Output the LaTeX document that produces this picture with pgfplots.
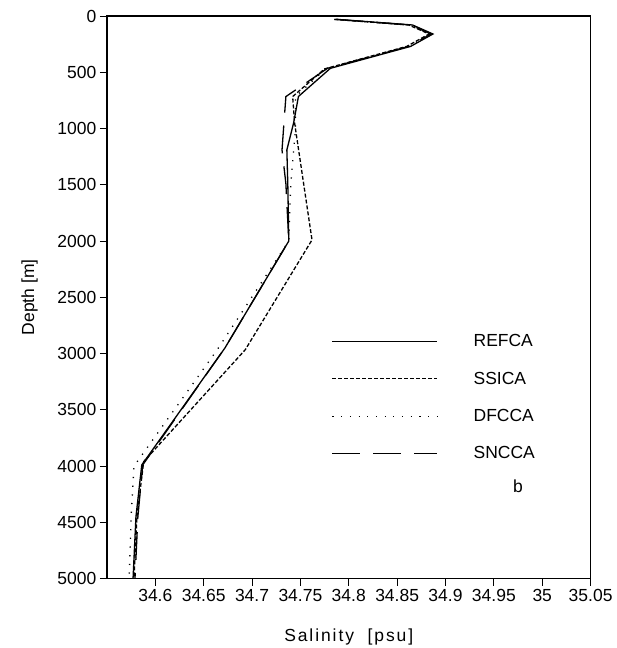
\documentclass[border=0pt]{standalone}
\usepackage{fontspec}
\setmainfont{Liberation Sans}
\usepackage{pgfplots}
\pgfplotsset{compat=1.18}

\begin{document}
\begin{tikzpicture}[font=\fontsize{17.5}{21}\selectfont]
\begin{axis}[
    name=ax,
    scale only axis,
    width=484pt, height=563pt,
    xmin=34.55, xmax=35.05,
    ymin=0, ymax=5000,
    y dir=reverse,
    xtick={34.6,34.65,34.7,34.75,34.8,34.85,34.9,34.95,35,35.05},
    ytick={0,500,1000,1500,2000,2500,3000,3500,4000,4500,5000},
    /pgf/number format/assume math mode=true,
    /pgf/number format/1000 sep={},
    /pgf/number format/precision=2,
    tick label style={font=\fontsize{17.5}{21}\selectfont},
    label style={font=\fontsize{17.5}{21}\selectfont},
    tick pos=left,
    tick align=outside,
    major tick length=7pt,
    tick style={line width=0.9pt, black},
    axis line style={line width=1.3pt},
    xlabel={\addfontfeature{LetterSpace=11}Salinity\ \ [psu]},
    ylabel={Depth [m]},
    xlabel style={at={(ticklabel cs:0.5,20pt)}},
    ylabel style={at={(ticklabel cs:0.5,13pt)}},
    legend style={draw=none, fill=none, at={(rel axis cs:0.459,0.441)}, anchor=north west,
                  row sep=19.5pt, font=\fontsize{17.5}{21}\selectfont,
                  /tikz/every odd column/.append style={column sep=34pt}},
    legend cell align=left,
    legend image code/.code={\draw[#1, line width=0.6pt] (0pt,0pt) -- (105pt,0pt);},
    every axis plot/.append style={line width=1.3pt, black},
]
% REFCA
\addplot[solid] coordinates {
(34.788,30) (34.866,80) (34.887,160) (34.864,270) (34.781,465) (34.748,715)
(34.743,950) (34.736,1190) (34.737,1500) (34.738,2000) (34.672,2950)
(34.586,3990) (34.580,4450) (34.577,5000)};
\addlegendentry{REFCA}
% SSICA
\addplot[dash pattern=on 4pt off 2pt] coordinates {
(34.785,30) (34.862,80) (34.883,160) (34.860,270) (34.775,470) (34.742,716)
(34.744,950) (34.762,1990) (34.693,2966) (34.588,3960) (34.581,4450) (34.578,5000)};
\addlegendentry{SSICA}
% DFCCA
\addplot[dash pattern=on 1.2pt off 7.5pt] coordinates {
(34.787,30) (34.864,80) (34.885,160) (34.862,270) (34.776,470) (34.745,716)
(34.745,1000) (34.740,1500) (34.738,2000) (34.664,2966) (34.578,4000)
(34.575,4450) (34.573,5000)};
\addlegendentry{DFCCA}
% SNCCA
\addplot[dash pattern=on 28pt off 13pt] coordinates {
(34.786,30) (34.864,80) (34.885,160) (34.862,270) (34.778,465) (34.735,716)
(34.733,950) (34.731,1190) (34.735,1490) (34.738,2000) (34.672,2950)
(34.587,3990) (34.582,4450) (34.579,5000)};
\addlegendentry{SNCCA}
\node[anchor=center] at (axis cs:34.975,4183) {b};
\end{axis}
\path ([xshift=-107pt,yshift=16pt]ax.north west) rectangle ([xshift=26pt,yshift=-69pt]ax.south east);
\end{tikzpicture}
\end{document}
